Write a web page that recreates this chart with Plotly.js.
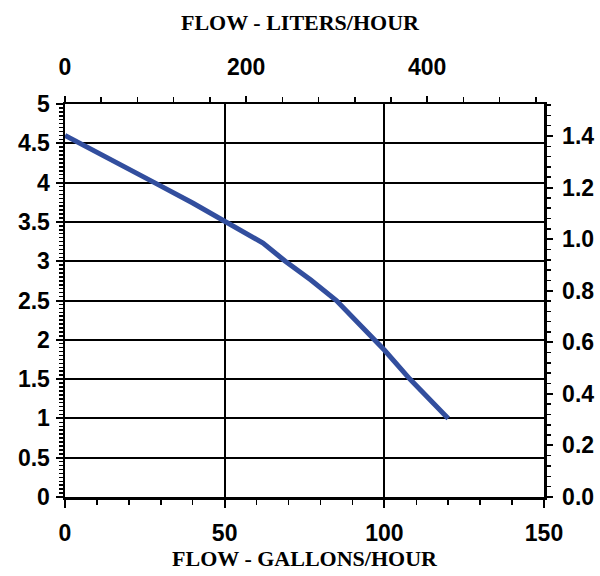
<!DOCTYPE html>
<html>
<head>
<meta charset="utf-8">
<script src="https://cdn.plot.ly/plotly-3.0.1.min.js"></script>
<style>html,body{margin:0;padding:0;background:#fff;}#chart{width:600px;height:576px;}</style>
</head>
<body>
<div id="chart"></div>
<script>
// Flow in gallons/hour (bottom axis) and head in feet (left axis)
var flowGph = [0, 10, 20, 28, 40, 50, 56, 62, 69, 77, 85, 92, 100, 108, 120];
var headFt  = [4.6, 4.38, 4.17, 4.0, 3.74, 3.5, 3.37, 3.23, 3.0, 2.76, 2.5, 2.2, 1.87, 1.5, 1.0];
var bottomTitle = "FLOW - GALLONS/HOUR";
var topTitle = "FLOW - LITERS/HOUR";
var litersMax = 529;   // top axis extent
var gphMax = 150;
var ftMax = 5;
var mMax = 1.524;

var tickFont = {family: "Liberation Sans, Arial, sans-serif", size: 23, color: "#000", weight: "bold"};
var titleFont = {family: "Liberation Serif, Times New Roman, serif", size: 22, color: "#000", weight: "bold"};

var curve = {
  x: flowGph, y: headFt, type: "scatter", mode: "lines",
  line: {color: "rgb(50,78,158)", width: 5},
  xaxis: "x", yaxis: "y", hoverinfo: "skip", showlegend: false
};
var ghost = {
  x: [0, litersMax], y: [0, mMax], type: "scatter", mode: "markers",
  marker: {opacity: 0}, xaxis: "x2", yaxis: "y2", hoverinfo: "skip", showlegend: false
};

var layout = {
  width: 600, height: 576,
  margin: {l: 65, r: 56, t: 104, b: 79},
  paper_bgcolor: "#fff", plot_bgcolor: "#fff",
  showlegend: false,
  title: {text: topTitle, font: titleFont, x: 0.5, xanchor: "center",
          y: 1 - 22/576, yanchor: "middle", yref: "container"},
  xaxis: {
    range: [0, gphMax], dtick: 50, tick0: 0,
    showline: true, linecolor: "#000", linewidth: 2.5,
    showgrid: true, gridcolor: "#000", gridwidth: 2,
    zeroline: false,
    ticks: "outside", ticklen: 8, tickwidth: 2, tickcolor: "#000",
    minor: {dtick: 10, ticks: "outside", ticklen: 5, tickwidth: 1.5, tickcolor: "#000", showgrid: false},
    tickfont: tickFont,
    ticklabelstandoff: 6,
    title: {text: bottomTitle, font: titleFont, standoff: 5}
  },
  xaxis2: {
    overlaying: "x", side: "top", anchor: "y",
    range: [0, litersMax], dtick: 200, tick0: 0,
    showline: true, linecolor: "#000", linewidth: 2.5,
    showgrid: false, zeroline: false,
    ticks: "outside", ticklen: 6, tickwidth: 2, tickcolor: "#000",
    minor: {dtick: 40, ticks: "outside", ticklen: 5, tickwidth: 1.5, tickcolor: "#000", showgrid: false},
    tickfont: tickFont,
    ticklabelstandoff: 11
  },
  yaxis: {
    range: [0, ftMax], dtick: 0.5, tick0: 0,
    showline: true, linecolor: "#000", linewidth: 2.5,
    showgrid: true, gridcolor: "#000", gridwidth: 2,
    zeroline: false,
    ticks: "outside", ticklen: 7, tickwidth: 2, tickcolor: "#000",
    minor: {dtick: 0.05, ticks: "outside", ticklen: 4, tickwidth: 1.5, tickcolor: "#000", showgrid: false},
    tickfont: tickFont,
    ticklabelstandoff: 1
  },
  yaxis2: {
    overlaying: "y", side: "right", anchor: "x",
    range: [0, mMax], dtick: 0.2, tick0: 0, tickformat: ".1f",
    showline: true, linecolor: "#000", linewidth: 2.5,
    showgrid: false, zeroline: false,
    ticks: "outside", ticklen: 6, tickwidth: 2, tickcolor: "#000",
    minor: {dtick: 0.04, ticks: "outside", ticklen: 4, tickwidth: 1.5, tickcolor: "#000", showgrid: false},
    tickfont: tickFont,
    ticklabelstandoff: 5
  }
};

Plotly.newPlot("chart", [curve, ghost], layout, {displayModeBar: false, staticPlot: true});
</script>
</body>
</html>
